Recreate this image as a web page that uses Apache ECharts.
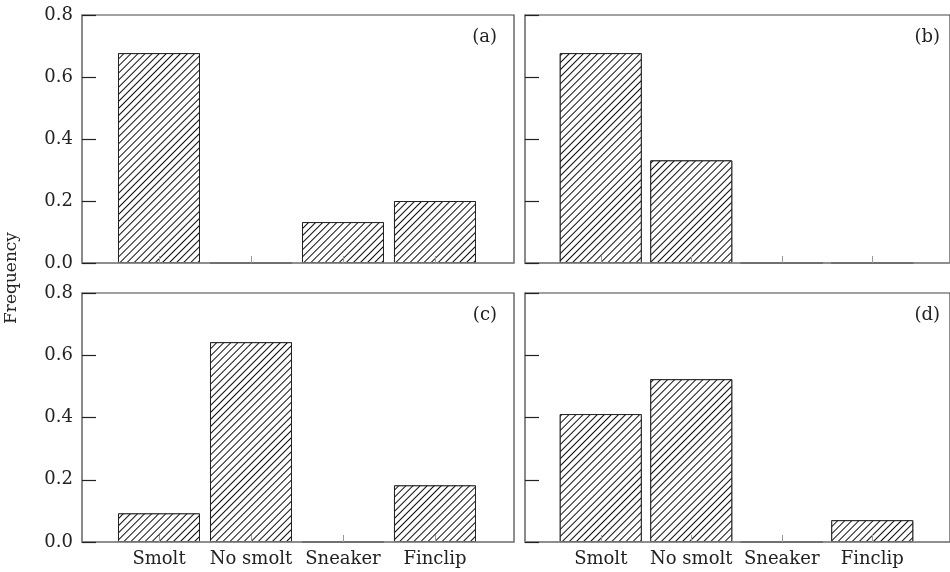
<!DOCTYPE html>
<html>
<head>
<meta charset="utf-8">
<script src="https://cdn.jsdelivr.net/npm/echarts@6/dist/echarts.min.js"></script>
<style>
html,body{margin:0;padding:0;background:#fff;}
#main{width:950px;height:572px;}
</style>
</head>
<body>
<div id="main"></div>
<script>
const categories = ['Smolt', 'No smolt', 'Sneaker', 'Finclip'];
const panelA = [0.677, 0, 0.132, 0.2];
const panelB = [0.677, 0.331, 0, 0];
const panelC = [0.092, 0.642, 0, 0.182];
const panelD = [0.411, 0.523, 0, 0.07];
const panelLabels = ['(a)', '(b)', '(c)', '(d)'];

const FONT = 'DejaVu Serif';
const panels = [panelA, panelB, panelC, panelD];
const grids = [
  {left: 82, top: 15, width: 432, height: 248},
  {left: 525, top: 15, width: 432, height: 248},
  {left: 82, top: 293, width: 432, height: 249},
  {left: 525, top: 293, width: 432, height: 249}
];
const catIdx = categories.map((c, i) => i);

const option = {
  backgroundColor: '#fff',
  animation: false,
  grid: grids.map(g => Object.assign({show: true, borderColor: '#444', borderWidth: 1.2, backgroundColor: 'transparent'}, g)),
  title: panelLabels.map((t, i) => ({
    text: t,
    right: i % 2 === 0 ? 448 : 5,
    top: i < 2 ? 23 : 301,
    textStyle: {fontFamily: FONT, fontSize: 18, fontWeight: 'normal', color: '#222'}
  })),
  xAxis: panels.map((p, i) => ({
    type: 'value',
    gridIndex: i,
    min: -0.837,
    max: 3.859,
    z: 3,
    splitLine: {show: false},
    axisLine: {show: true, onZero: false, lineStyle: {color: '#888', width: 1.5}},
    axisTick: {show: true, inside: true, length: 7, customValues: catIdx, lineStyle: {color: '#999', width: 1}},
    axisLabel: {
      show: i >= 2,
      customValues: catIdx,
      formatter: v => categories[Math.round(v)],
      fontFamily: FONT, fontSize: 18, color: '#222', margin: 8
    }
  })),
  yAxis: panels.map((p, i) => ({
    type: 'value',
    gridIndex: i,
    min: 0,
    max: 0.8,
    interval: 0.2,
    z: 3,
    splitLine: {show: false},
    axisLine: {show: true, onZero: false, lineStyle: {color: '#888', width: 1.5}},
    axisTick: {show: true, inside: true, length: 14, lineStyle: {color: '#222', width: 1.2}},
    axisLabel: {
      show: i % 2 === 0,
      formatter: v => v.toFixed(1),
      fontFamily: FONT, fontSize: 18, color: '#222', margin: 9
    }
  })),
  series: panels.map((p, i) => ({
    type: 'bar',
    xAxisIndex: i,
    yAxisIndex: i,
    barWidth: 82,
    data: p.map((v, k) => [catIdx[k], v]),
    itemStyle: {
      color: '#fff',
      borderColor: '#222',
      borderWidth: 1,
      decal: {
        symbol: 'rect',
        symbolSize: 1,
        dashArrayX: [1, 0],
        dashArrayY: [1, 3.6],
        rotation: -Math.PI / 4,
        color: '#111',
        backgroundColor: '#fff'
      }
    }
  })),
  graphic: [{
    type: 'text',
    x: 12,
    y: 278,
    rotation: Math.PI / 2,
    style: {
      text: 'Frequency',
      fontFamily: FONT,
      fontSize: 17,
      fill: '#222',
      align: 'center',
      verticalAlign: 'middle'
    }
  }]
};

const chart = echarts.init(document.getElementById('main'), null, {renderer: 'canvas'});
chart.setOption(option);
</script>
</body>
</html>
